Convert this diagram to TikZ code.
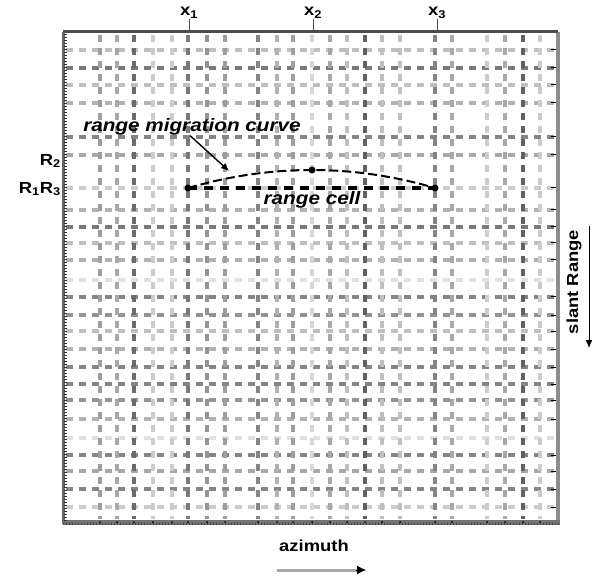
\documentclass[tikz,border=0pt]{standalone}
\usepackage{fontspec}
\setmainfont{Liberation Sans}[FakeStretch=1.15]
\usetikzlibrary{arrows.meta}
\begin{document}
\begin{tikzpicture}[x=1pt,y=-1pt,
  gridln/.style={line width=3.6pt, dash pattern=on 7pt off 6pt},
  lab/.style={font=\fontsize{16}{18}\selectfont\bfseries, inner sep=0pt},
  ilab/.style={font=\fontsize{18}{20}\selectfont\bfseries\itshape, inner sep=0pt},
  curvepath/.style={line width=2pt, dash pattern=on 9pt off 4pt},
  tangentln/.style={line width=3.8pt, dash pattern=on 9pt off 7pt},
  edge/.style={black!45, line width=4pt},
  ptr/.style={line width=1.4pt, -{Latex[length=8pt,width=7pt]}}]
\useasboundingbox (0,0) rectangle (592,580);
% grid lines
\foreach \y/\g in {50/25,68/52,85/25,103/30,137/48,155/34,188/20,210/30,227/52,243/25,260/30,280/12,297/48,315/42,331/25,349/30,367/48,384/48,400/42,419/30,438/12,455/48,471/34,489/48,507/20}
  \draw[gridln, black!\g] (66,\y) -- (556,\y);
\foreach \x/\g in {100/38,117/34,134/58,153/20,172/20,188/52,207/42,225/38,258/48,277/30,293/38,312/16,330/34,347/25,365/62,382/25,400/25,435/48,452/34,487/20,505/34,523/62,540/20}
  \draw[gridln, black!\g] (\x,35) -- (\x,519);
% frame
\draw[edge] (558,32) -- (558,522);
\draw[black!70, line width=3pt] (63,32) -- (558,32);
\draw[black!55, line width=5pt] (63,522) -- (560,522);
\draw[black!75, line width=2.5pt, dash pattern=on 1pt off 2pt] (63,524) -- (560,524);
\draw[black!60, line width=3pt] (63,32) -- (63,524);
\draw[black!80, line width=3pt, dash pattern=on 1pt off 2pt] (65.5,34) -- (65.5,522);
\foreach \y in {50,68,85,103,137,155,188,210,227,243,260,297,315,331,349,367,384,400,419,455,471,489,507}
  \draw[black, line width=1pt] (551,\y) -- (556,\y);
\foreach \x in {100,117,134,153,172,188,207,225,258,277,293,312,330,347,365,382,400,435,452,487,505,523,540}
  \fill[black] (\x,522) circle (1pt);
% curve points
\coordinate (p1) at (188,188);
\coordinate (p2) at (312,170);
\coordinate (p3) at (435,188);
\coordinate (ah) at (229,171);
\draw[tangentln, black] (p1) -- (p3);
\draw[curvepath, black] (p1) .. controls (270.7,164) and (353.3,164) .. (p3);
\fill (p1) circle (3.5pt);
\fill (p2) circle (3.5pt);
\fill (p3) circle (3.5pt);
% labels
\node[ilab] (rmc) at (192,127) {range migration curve};
\draw[ptr] (rmc.south -| 190,0) -- (ah);
\node[ilab] (rc) at (312,200) {range cell};
\node[lab, anchor=east] (r2) at (61,161) {R\textsubscript{2}};
\node[lab, anchor=east] (r13) at (61,189) {R\textsubscript{1}R\textsubscript{3}};
\node[lab] (x1) at (189,13) {x\textsubscript{1}};
\node[lab] (x2) at (313,13) {x\textsubscript{2}};
\node[lab] (x3) at (437,13) {x\textsubscript{3}};
\coordinate (t1) at (189,31);
\coordinate (t2) at (313,31);
\coordinate (t3) at (437,31);
\draw[black!70, line width=1pt] (x1.south) -- (t1);
\draw[black!70, line width=1pt] (x2.south) -- (t2);
\draw[black!70, line width=1pt] (x3.south) -- (t3);
\node[lab, rotate=90] (sr) at (574,282) {slant Range};
\coordinate (s1) at (589,226);
\coordinate (s2) at (589,348);
\draw[ptr, line width=1pt] (s1) -- (s2);
\node[lab] (az) at (314,546) {azimuth};
\coordinate (a1) at (277,570);
\coordinate (a2) at (366,570);
\draw[black!35, line width=3pt] (a1) -- (358,570);
\draw[-{Latex[length=9pt,width=9pt]}, black, line width=1pt] (356,570) -- (a2);
\end{tikzpicture}
\end{document}
